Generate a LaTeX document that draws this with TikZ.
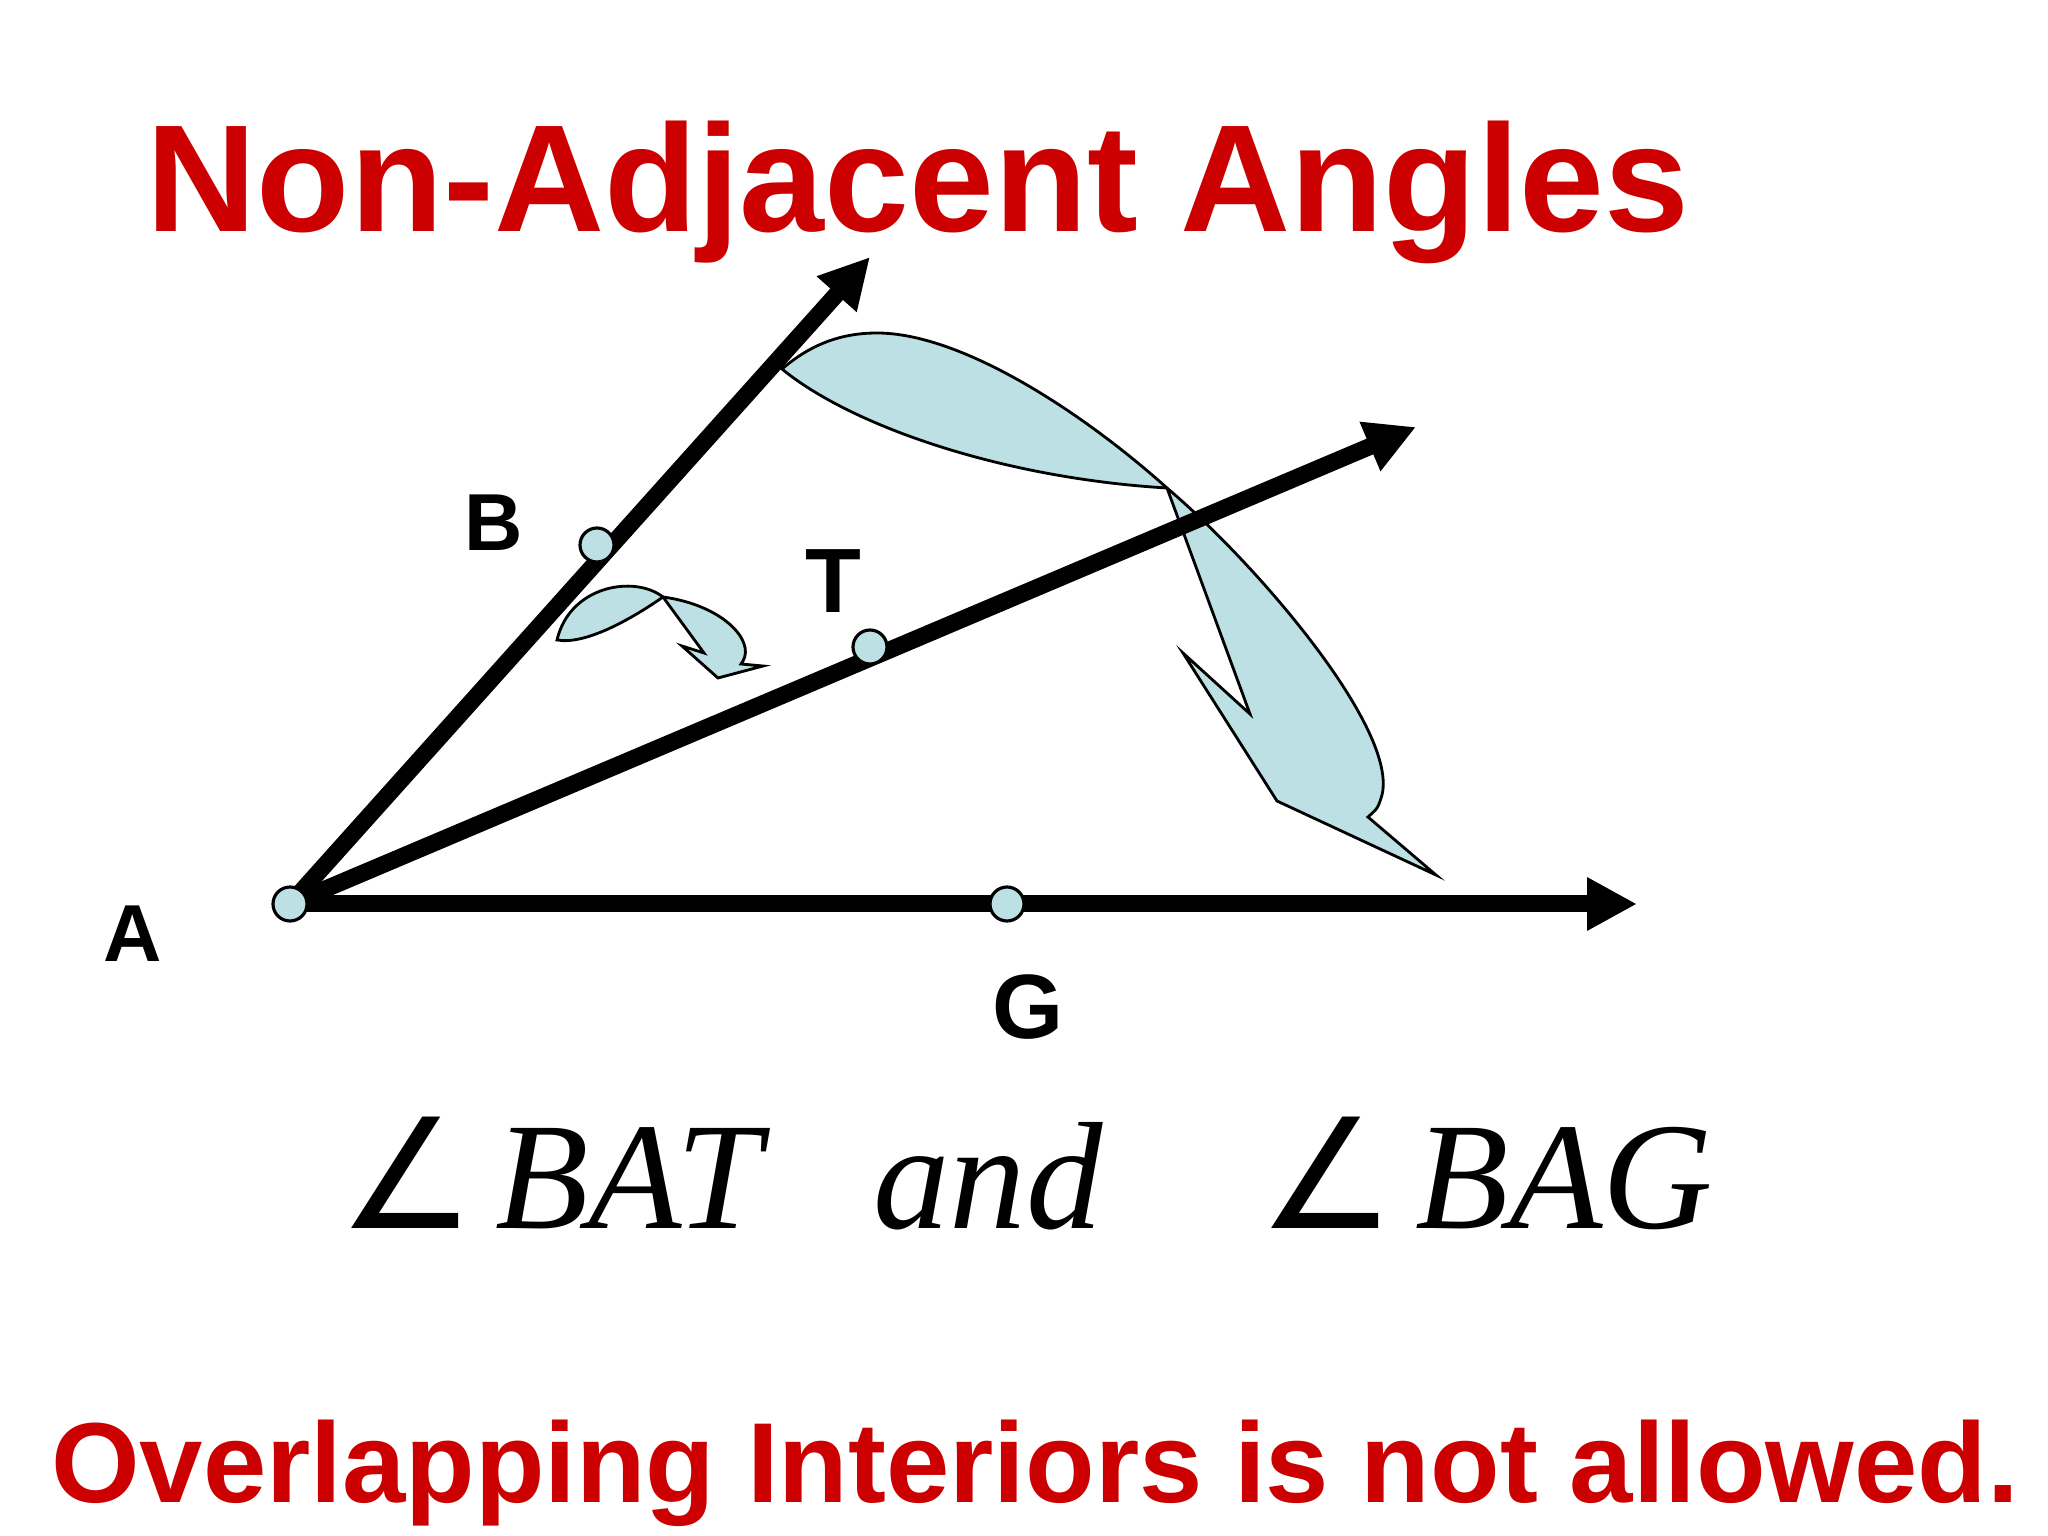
\documentclass[tikz,border=0pt]{standalone}
\usepackage{fontspec}
\setmainfont{Liberation Serif}
\newfontfamily\arialfont{Liberation Sans}
\newfontfamily\symfont{DejaVu Sans}
\usetikzlibrary{arrows.meta}
\definecolor{titlered}{RGB}{204,0,0}
\definecolor{paleblue}{RGB}{188,224,227}

\begin{document}
\begin{tikzpicture}[
  ray/.style={line width=0.17cm, -{Triangle[length=0.5cm,width=0.5cm]}},
  vertex/.style={circle, draw, line width=0.9pt, fill=paleblue, minimum size=0.34cm, inner sep=0pt},
  lbl/.style={font=\arialfont\bfseries\fontsize{23}{23}\selectfont, anchor=base},
  lblbig/.style={font=\arialfont\bfseries\fontsize{26}{26}\selectfont, anchor=base},
  turnarrow/.style={draw, line width=0.8pt, fill=paleblue, line join=miter},
  angtext/.style={font=\itshape\fontsize{43.5}{43.5}\selectfont, anchor=base}
]
\useasboundingbox[fill=white] (0,0) rectangle (20.48,-15.36);
\node[font=\arialfont\bfseries\fontsize{43.4}{43.4}\selectfont, text=titlered, anchor=base] (title) at (9.18,-2.32) {Non-Adjacent Angles};
%points
\coordinate (A) at (2.90,-9.04);
\coordinate (Btip) at (8.70,-2.57);
\coordinate (Ttip) at (14.16,-4.27);
\coordinate (Gtip) at (16.37,-9.04);
%curved arrows
\draw[turnarrow] (7.82,-3.69) .. controls (8.10,-3.45) and (8.40,-3.33) .. (8.77,-3.33)
  .. controls (9.60,-3.33) and (10.80,-4.10) .. (11.67,-4.88)
  .. controls (12.60,-5.67) and (13.98,-7.30) .. (13.82,-7.95)
  .. controls (13.78,-8.08) .. (13.68,-8.17)
  -- (14.36,-8.75) -- (12.77,-8.01) -- (11.83,-6.53) -- (12.50,-7.14) -- (11.67,-4.88)
  .. controls (10.00,-4.78) and (8.50,-4.25) .. cycle;
\draw[turnarrow] (5.57,-6.40) .. controls (5.70,-5.85) and (6.35,-5.75) .. (6.63,-5.97)
  .. controls (7.22,-6.05) and (7.55,-6.40) .. (7.43,-6.61)
  -- (7.41,-6.64) -- (7.63,-6.66) -- (7.18,-6.78) -- (6.82,-6.46) -- (7.04,-6.53) -- (6.63,-5.97)
  .. controls (6.30,-6.20) and (5.85,-6.45) .. cycle;
%rays
\draw[ray] (A) -- (Btip);
\draw[ray] (A) -- (Ttip);
\draw[ray] (A) -- (Gtip);
\node[vertex] (pA) at (A) {};
\node[vertex] (pB) at (5.97,-5.45) {};
\node[vertex] (pT) at (8.70,-6.47) {};
\node[vertex] (pG) at (10.07,-9.04) {};
\node[lbl] (labB) at (4.94,-5.51) {B};
\node[lblbig] (labT) at (8.33,-6.13) {T};
\node[lbl] (labA) at (1.33,-9.61) {A};
\node[lblbig] (labG) at (10.28,-10.38) {G};
%names of the angles
\node[angtext] (bat) at (5.50,-12.28) {{\symfont ∠}\kern0.2cm BAT};
\node[angtext] (and) at (9.88,-12.28) {and};
\node[angtext] (bag) at (14.86,-12.28) {{\symfont ∠}\kern0.2cm BAG};
\node[font=\arialfont\bfseries\fontsize{32.4}{32.4}\selectfont, text=titlered, anchor=base] (rule) at (10.35,-15.02) {Overlapping Interiors is not allowed.};
\end{tikzpicture}
\end{document}
